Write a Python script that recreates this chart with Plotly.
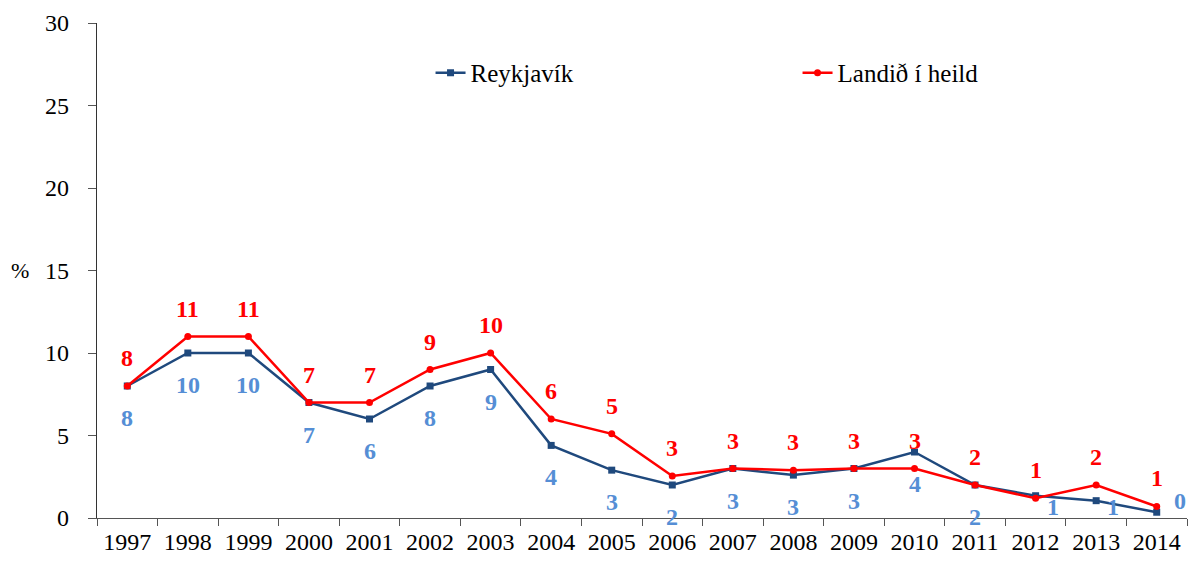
import plotly.graph_objects as go

years = ["1997", "1998", "1999", "2000", "2001", "2002", "2003", "2004", "2005",
         "2006", "2007", "2008", "2009", "2010", "2011", "2012", "2013", "2014"]
reykjavik = [8.0, 10.0, 10.0, 7.0, 6.0, 8.0, 9.0, 4.4, 2.9, 2.0, 3.0, 2.6, 3.0, 4.0, 2.0, 1.35, 1.05, 0.35]
landid = [8.0, 11.0, 11.0, 7.0, 7.0, 9.0, 10.0, 6.0, 5.1, 2.55, 3.0, 2.9, 3.0, 3.0, 2.0, 1.2, 2.0, 0.7]
reykjavik_labels = ["8", "10", "10", "7", "6", "8", "9", "4", "3", "2", "3", "3", "3", "4", "2", "1", "1", "0"]
landid_labels = ["8", "11", "11", "7", "7", "9", "10", "6", "5", "3", "3", "3", "3", "3", "2", "1", "2", "1"]
y_ticks = [0, 5, 10, 15, 20, 25, 30]

# label offsets (pixels) - style only
blue_dx = [0] * 15 + [17, 17, 23]
blue_dy = [-32] * 15 + [-11, -6, 11]
red_dy = [28] * 18

BLUE_LINE = "#1F497D"
BLUE_LABEL = "#558ED5"
RED = "#FF0000"
FONT = "Liberation Serif, Times New Roman, DejaVu Serif, serif"

fig = go.Figure()
fig.add_trace(go.Scatter(
    x=years, y=reykjavik, name="Reykjavík", mode="lines+markers",
    line=dict(color=BLUE_LINE, width=2.5),
    marker=dict(symbol="square", size=7, color=BLUE_LINE),
    cliponaxis=False,
))
fig.add_trace(go.Scatter(
    x=years, y=landid, name="Landið í heild", mode="lines+markers",
    line=dict(color=RED, width=2.5),
    marker=dict(symbol="circle", size=7, color=RED),
    cliponaxis=False,
))

annotations = []
for i, yr in enumerate(years):
    annotations.append(dict(
        x=i, y=reykjavik[i], text="<b>" + reykjavik_labels[i] + "</b>", showarrow=False,
        xshift=blue_dx[i], yshift=blue_dy[i],
        font=dict(family=FONT, size=24, color=BLUE_LABEL),
    ))
    annotations.append(dict(
        x=i, y=landid[i], text="<b>" + landid_labels[i] + "</b>", showarrow=False,
        yshift=red_dy[i],
        font=dict(family=FONT, size=24, color=RED),
    ))
annotations.append(dict(
    xref="paper", yref="paper", x=-0.071, y=0.5, xanchor="center", yanchor="middle",
    text="%", showarrow=False,
    font=dict(family=FONT, size=22, color="black"),
))

fig.update_layout(
    width=1189, height=561,
    margin=dict(l=97, r=2, t=23, b=43, autoexpand=False),
    paper_bgcolor="white", plot_bgcolor="white",
    font=dict(family=FONT, size=24, color="black"),
    showlegend=True,
    legend=dict(
        orientation="h", x=0.306, xanchor="left", y=0.899, yanchor="middle",
        entrywidth=322, entrywidthmode="pixels",
        font=dict(family=FONT, size=25, color="black"),
        bgcolor="rgba(0,0,0,0)",
    ),
    annotations=annotations,
    xaxis=dict(
        type="category", range=[-0.5, 17.5], automargin=False,
        tickson="boundaries", ticks="outside", ticklen=7, tickcolor="#555",
        showline=True, linecolor="#555", linewidth=1.3,
        showgrid=False, zeroline=False,
        tickfont=dict(family=FONT, size=24, color="black"),
        ticklabelstandoff=2,
    ),
    yaxis=dict(
        range=[0, 30], tickvals=y_ticks, automargin=False,
        ticks="outside", ticklen=8, tickcolor="#555",
        showline=True, linecolor="#333", linewidth=1.3,
        showgrid=False, zeroline=False,
        tickfont=dict(family=FONT, size=24, color="black"),
        ticklabelstandoff=14,
    ),
)

fig.write_html(
    "out.html",
    config={"displayModeBar": False},
    post_script="document.body.style.margin='0';document.body.style.overflow='hidden';",
)
